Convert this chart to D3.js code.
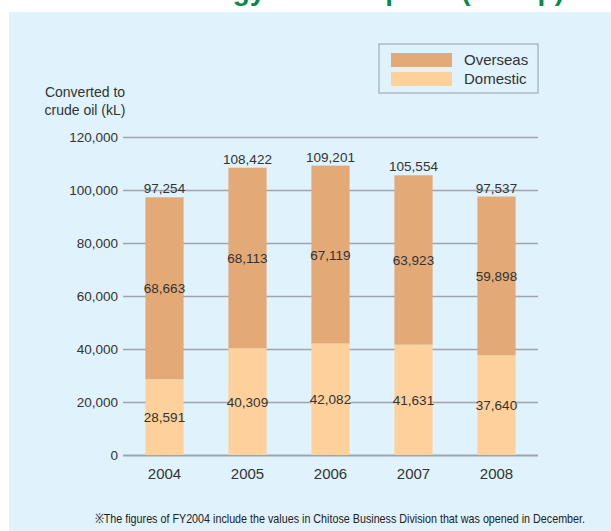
<!DOCTYPE html>
<html>
<head>
<meta charset="utf-8">
<script src="https://cdn.jsdelivr.net/npm/d3@7"></script>
<style>
  body { margin: 0; background: #fff; }
  text { font-family: "Liberation Sans", Arial, sans-serif; }
</style>
</head>
<body>
<div id="chart"></div>
<script>
var width = 611
var height = 531

// data
const years = ["2004", "2005", "2006", "2007", "2008"]
const domestic = [28591, 40309, 42082, 41631, 37640]
const overseas = [68663, 68113, 67119, 63923, 59898]
const totals = [97254, 108422, 109201, 105554, 97537]
const yTicks = [0, 20000, 40000, 60000, 80000, 100000, 120000]
const seriesNames = ["Overseas", "Domestic"]

var svg = d3.select("#chart").append("svg")
            .attr("width", width)
            .attr("height", height)

const colors = { Overseas: "#e3aa78", Domestic: "#fdd09c" }

const render = data => {
    const margin = {top: 137, right: 73, bottom: 76, left: 123}
    const innerWidth = width - margin.left - margin.right
    const innerHeight = height - margin.top - margin.bottom

    // panel + title (only its lower edge shows above the panel)
    svg.append("rect")
        .attr("x", 9).attr("y", 12)
        .attr("width", width - 9).attr("height", height - 12)
        .attr("fill", "#e0f2fc")
    svg.append("text")
        .attr("x", 564).attr("y", 0)
        .attr("text-anchor", "end")
        .attr("font-size", 28).attr("font-weight", "bold")
        .attr("fill", "#0a8a4a")
        .text("Energy Consumption (Group)")

    const xScale = d3.scaleBand()
        .domain(years)
        .range([0, innerWidth])
        .paddingInner(0.54)
        .paddingOuter(0.27)

    const yScale = d3.scaleLinear()
        .domain([0, 120000])
        .range([innerHeight, 0])

    const g = svg.append("g")
        .attr("transform", `translate(${margin.left}, ${margin.top})`)

    const yAxis = d3.axisLeft(yScale)
        .tickValues(yTicks)
        .tickSize(-innerWidth)
        .tickPadding(5)
        .tickFormat(d3.format(","))

    const ya = g.append("g").call(yAxis)
    ya.select(".domain").remove()
    ya.selectAll(".tick line").attr("stroke", "#9da5ad").attr("stroke-width", 1.3)
    ya.selectAll(".tick text").attr("font-size", 13.5).attr("fill", "#333")
        .attr("font-family", "Liberation Sans, Arial, sans-serif")
    ya.select(".tick line").attr("stroke-width", 2)

    const xAxis = d3.axisBottom(xScale).tickSize(0).tickPadding(13)
    const xa = g.append("g").call(xAxis)
        .attr("transform", `translate(0, ${innerHeight})`)
    xa.select(".domain").remove()
    xa.selectAll(".tick text").attr("font-size", 15).attr("fill", "#333")
        .attr("font-family", "Liberation Sans, Arial, sans-serif")

    const stack = d3.stack().keys(["Domestic", "Overseas"])
    const layers = stack(data)

    g.selectAll(".layer").data(layers)
        .enter().append("g")
        .attr("fill", d => colors[d.key])
        .selectAll("rect").data(d => d)
        .enter().append("rect")
        .attr("x", d => xScale(d.data.year))
        .attr("y", d => yScale(d[1]))
        .attr("width", xScale.bandwidth())
        .attr("height", d => yScale(d[0]) - yScale(d[1]))

    // segment labels
    layers.forEach(layer => {
        g.selectAll(".lbl-" + layer.key).data(layer)
            .enter().append("text")
            .attr("x", d => xScale(d.data.year) + xScale.bandwidth() / 2)
            .attr("y", d => (yScale(d[0]) + yScale(d[1])) / 2 + 5)
            .attr("text-anchor", "middle")
            .attr("font-size", 13.5).attr("fill", "#333")
            .text(d => d3.format(",")(d[1] - d[0]))
    })

    // totals
    g.selectAll(".total").data(data)
        .enter().append("text")
        .attr("x", d => xScale(d.year) + xScale.bandwidth() / 2)
        .attr("y", d => yScale(d.total) - 4)
        .attr("text-anchor", "middle")
        .attr("font-size", 13.5).attr("fill", "#333")
        .text(d => d3.format(",")(d.total))

    // y title
    svg.append("text")
        .attr("x", 85).attr("y", 97)
        .attr("text-anchor", "middle")
        .attr("font-size", 14).attr("fill", "#333")
        .text("Converted to")
    svg.append("text")
        .attr("x", 85).attr("y", 115)
        .attr("text-anchor", "middle")
        .attr("font-size", 14).attr("fill", "#333")
        .text("crude oil (kL)")

    // legend
    const lg = svg.append("g").attr("transform", "translate(379, 44)")
    lg.append("rect").attr("width", 159).attr("height", 49)
        .attr("fill", "#e0f2fc").attr("stroke", "#a9b1b8").attr("stroke-width", 1.3)
    seriesNames.forEach((s, i) => {
        lg.append("rect")
            .attr("x", 12).attr("y", 9 + i * 19)
            .attr("width", 61).attr("height", 14)
            .attr("fill", colors[s])
        lg.append("text")
            .attr("x", 85).attr("y", 21 + i * 19)
            .attr("font-size", 15).attr("fill", "#333")
            .text(s)
    })

    // footnote
    svg.append("text")
        .attr("x", 95).attr("y", 523)
        .attr("font-size", 13.5).attr("fill", "#222")
        .attr("textLength", 490).attr("lengthAdjust", "spacingAndGlyphs")
        .text("※The figures of FY2004 include the values in Chitose Business Division that was opened in December.")
}

const dataset = years.map((y, i) => ({
    year: y,
    Domestic: domestic[i],
    Overseas: overseas[i],
    total: totals[i]
}))

render(dataset)
</script>
</body>
</html>
